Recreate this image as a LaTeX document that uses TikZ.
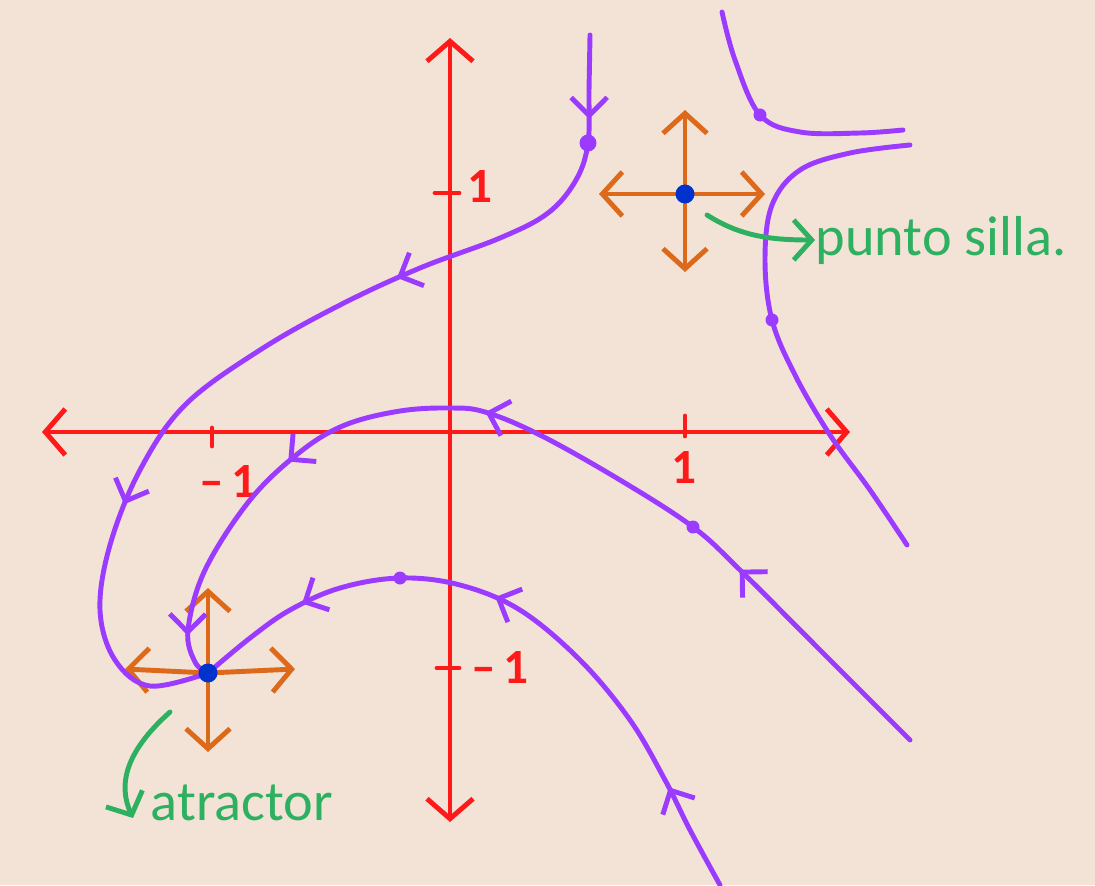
\documentclass[tikz,border=0pt]{standalone}
\usepackage{fontspec}
\setmainfont{Carlito}
\usetikzlibrary{arrows.meta,decorations.markings,positioning}

\definecolor{fondo}{HTML}{F3E3D7}
\definecolor{eje}{HTML}{FF1A1A}
\definecolor{tray}{HTML}{9B3BFF}
\definecolor{flecha}{HTML}{DD6A1A}
\definecolor{punto}{HTML}{0033CC}
\definecolor{nota}{HTML}{2DB060}

\newcommand\barb{\arrow{Straight Barb[length=1.8mm,width=3.6mm,line width=1.4pt]}}

\begin{document}
\begin{tikzpicture}[x=0.01cm, y=-0.01cm,
  axis/.style={eje, line width=1.4pt, line cap=round,
    {Straight Barb[length=2mm,width=4.6mm]}-{Straight Barb[length=2mm,width=4.6mm]}},
  tick/.style={eje, line width=1.4pt, line cap=round},
  num/.style={text=eje, font=\bfseries\fontsize{14}{14}\selectfont, inner sep=0pt},
  orbit/.style={tray, line width=1.4pt, line cap=round, postaction={decorate}},
  dir/.style={flecha, line width=1.4pt, line cap=round, -{Straight Barb[length=2mm,width=4.4mm]}},
  fixed/.style={circle, fill=punto, inner sep=0pt, minimum size=1.9mm},
  dot/.style={circle, fill=tray, inner sep=0pt, minimum size=1.3mm},
  note/.style={nota, line width=1.4pt, line cap=round, -{Straight Barb[length=1.8mm,width=4mm]}},
  label/.style={text=nota, font=\fontsize{16}{16}\selectfont, anchor=west, inner sep=0pt}]

% fondo
\fill[fondo] (0,0) rectangle (1095,885);
\useasboundingbox (0,0) rectangle (1095,885);

% ejes
\coordinate (xl) at (42,432);
\coordinate (xr) at (850,432);
\coordinate (yt) at (450,38);
\coordinate (yb) at (450,822);
\draw[axis] (xl) -- (xr);
\draw[axis] (yb) -- (yt);

\draw[tick] (212,428) -- (212,446);
\draw[tick] (685,416) -- (685,436);
\draw[tick] (435,193) -- (459,193);
\draw[tick] (437,668) -- (459,668);

\node[num] (xm1) at (228,482) {–\,1};
\node[num] (xp1) at (684,468) {1};
\node[num] (yp1) at (480,187) {1};
\node[num] (ym1) at (500,667) {–\,1};

% centros de los puntos fijos
\coordinate (cs) at (685,194);
\coordinate (ca) at (208,673);

% direcciones
\draw[dir] (cs) -- ++(0,-84);
\draw[dir] (cs) -- ++(0,78);
\draw[dir] (cs) -- ++(-86,0);
\draw[dir] (cs) -- ++(80,0);
\draw[dir] (ca) -- ++(0,-85);
\draw[dir] (ca) -- ++(0,79);
\draw[dir] (ca) -- ++(-83,-4);
\draw[dir] (ca) -- ++(87,-4);

% trayectorias
\draw[orbit, decoration={markings,
    mark=at position 0.085 with {\barb}, mark=at position 0.36 with {\barb},
    mark=at position 0.73 with {\barb}}]
  plot[smooth, tension=0.6] coordinates {(590,35) (589,90) (588,143) (576,180) (548,213)
    (500,238) (420,268) (340,305) (260,350) (185,405) (140,470) (110,545) (100,610)
    (115,660) (150,686) (208,673)};
\draw[orbit, decoration={markings,
    mark=at position 0.24 with {\barb}, mark=at position 0.54 with {\barb},
    mark=at position 0.75 with {\barb}, mark=at position 0.955 with {\barb}}]
  plot[smooth, tension=0.6] coordinates {(910,740) (820,650) (740,570) (693,527) (620,480)
    (540,435) (485,412) (450,408) (400,411) (345,425) (300,452) (250,500) (205,570)
    (188,630) (195,662) (208,673)};
\draw[orbit, decoration={markings,
    mark=at position 0.16 with {\barb}, mark=at position 0.54 with {\barb},
    mark=at position 0.83 with {\barb}}]
  plot[smooth, tension=0.6] coordinates {(720,885) (690,830) (665,780) (630,720) (580,660)
    (520,610) (460,585) (400,578) (340,588) (290,610) (250,638) (208,673)};
\draw[orbit] plot[smooth, tension=0.6] coordinates {(722,12) (735,60) (760,115) (800,132)
    (860,133) (903,130)};
\draw[orbit] plot[smooth, tension=0.6] coordinates {(910,145) (850,153) (800,170) (772,205)
    (765,260) (772,320) (795,375) (830,435) (870,490) (907,545)};

\node[dot, minimum size=1.7mm] (p1) at (588,143) {};
\node[dot] (p2) at (760,115) {};
\node[dot] (p3) at (772,320) {};
\node[dot] (p4) at (693,527) {};
\node[dot] (p5) at (400,578) {};

% puntos fijos
\node[fixed] (silla) at (cs) {};
\node[fixed] (atr) at (ca) {};

% notas
\node[label] (tsilla) at (815,240) {punto silla.};
\node[label] (tatr) at (150,803) {atractor};
\coordinate (s0) at (707,215);
\coordinate (a0) at (170,712);
\coordinate (a1) at (133,818);
\draw[note] (s0) .. controls (740,236) and (770,240) .. (tsilla.west);
\draw[note] (a0) .. controls (125,752) and (118,785) .. (a1);

\end{tikzpicture}
\end{document}
